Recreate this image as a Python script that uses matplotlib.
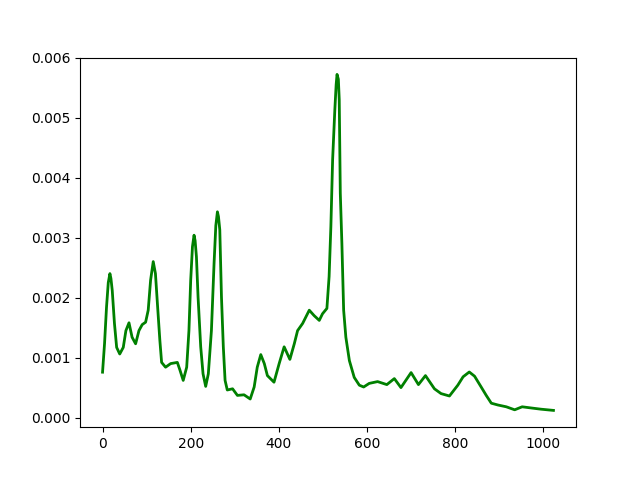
import matplotlib
matplotlib.use("Agg")
import matplotlib.pyplot as plt

x = [0, 4.5, 9, 13, 16.7, 19, 22, 27, 32, 39, 47, 53, 60, 67, 75, 82.6, 90, 97.7, 103.6, 109,
     115, 120, 125, 130, 134, 143, 154.5, 169.7, 175.7, 183, 190.9, 196, 200, 204, 207.6,
     210, 213, 216.7, 222.7, 228, 234, 240, 247, 253, 257, 260.6, 263, 266, 269.8, 274, 278, 283,
     295, 306, 321, 335, 344, 351, 359, 367, 374, 389, 400.7, 412, 425, 435, 442.5,
     454, 469, 480, 491.7, 499, 509, 514, 518, 522, 527, 530, 532, 535, 537, 539.4, 543,
     547, 552, 560, 571, 582.6, 592.4, 605, 624, 645, 662, 677, 700, 716.7, 732.6,
     753, 768, 787, 806, 818, 832, 844, 859, 870.5, 882, 897, 916, 935, 952, 973,
     995, 1023]
y = [0.000757, 0.00123, 0.00184, 0.00225, 0.0024, 0.00232, 0.00212, 0.00157, 0.00117, 0.00106, 0.00117,
     0.00145, 0.00158, 0.00134, 0.00123, 0.00145, 0.00155, 0.00159, 0.00179, 0.00229,
     0.0026, 0.0024, 0.00184, 0.00129, 0.00092, 0.00084, 0.0009, 0.00092, 0.00079,
     0.00062, 0.00084, 0.00145, 0.00229, 0.00285, 0.00304, 0.00295, 0.00268, 0.00201, 0.00118, 0.00073,
     0.00052, 0.00073, 0.00145, 0.00257, 0.00320, 0.00343, 0.00335, 0.00313, 0.00201, 0.00118, 0.00062,
     0.00046, 0.00048, 0.00037, 0.00038, 0.00031, 0.00051, 0.00084, 0.00105, 0.0009,
     0.0007, 0.00059, 0.0009, 0.00118, 0.00097, 0.00123, 0.00145, 0.00157, 0.00179,
     0.0017, 0.00162, 0.00173, 0.00182, 0.00235, 0.00318, 0.0043, 0.00513, 0.00555, 0.00572,
     0.00564, 0.0053, 0.00374, 0.0029, 0.00179, 0.00134, 0.00095, 0.00067, 0.00054,
     0.00051, 0.00057, 0.0006, 0.00055, 0.00065, 0.0005, 0.00075, 0.00055, 0.0007,
     0.00048, 0.0004, 0.00036, 0.00054, 0.00068, 0.00076, 0.00069, 0.00051, 0.00037,
     0.00024, 0.00021, 0.00018, 0.00013, 0.00018, 0.00016, 0.00014, 0.00012]

fig, ax = plt.subplots(figsize=(6.4, 4.8), dpi=100)
ax.plot(x, y, color="g", linewidth=2)
fig.savefig("out.png")
